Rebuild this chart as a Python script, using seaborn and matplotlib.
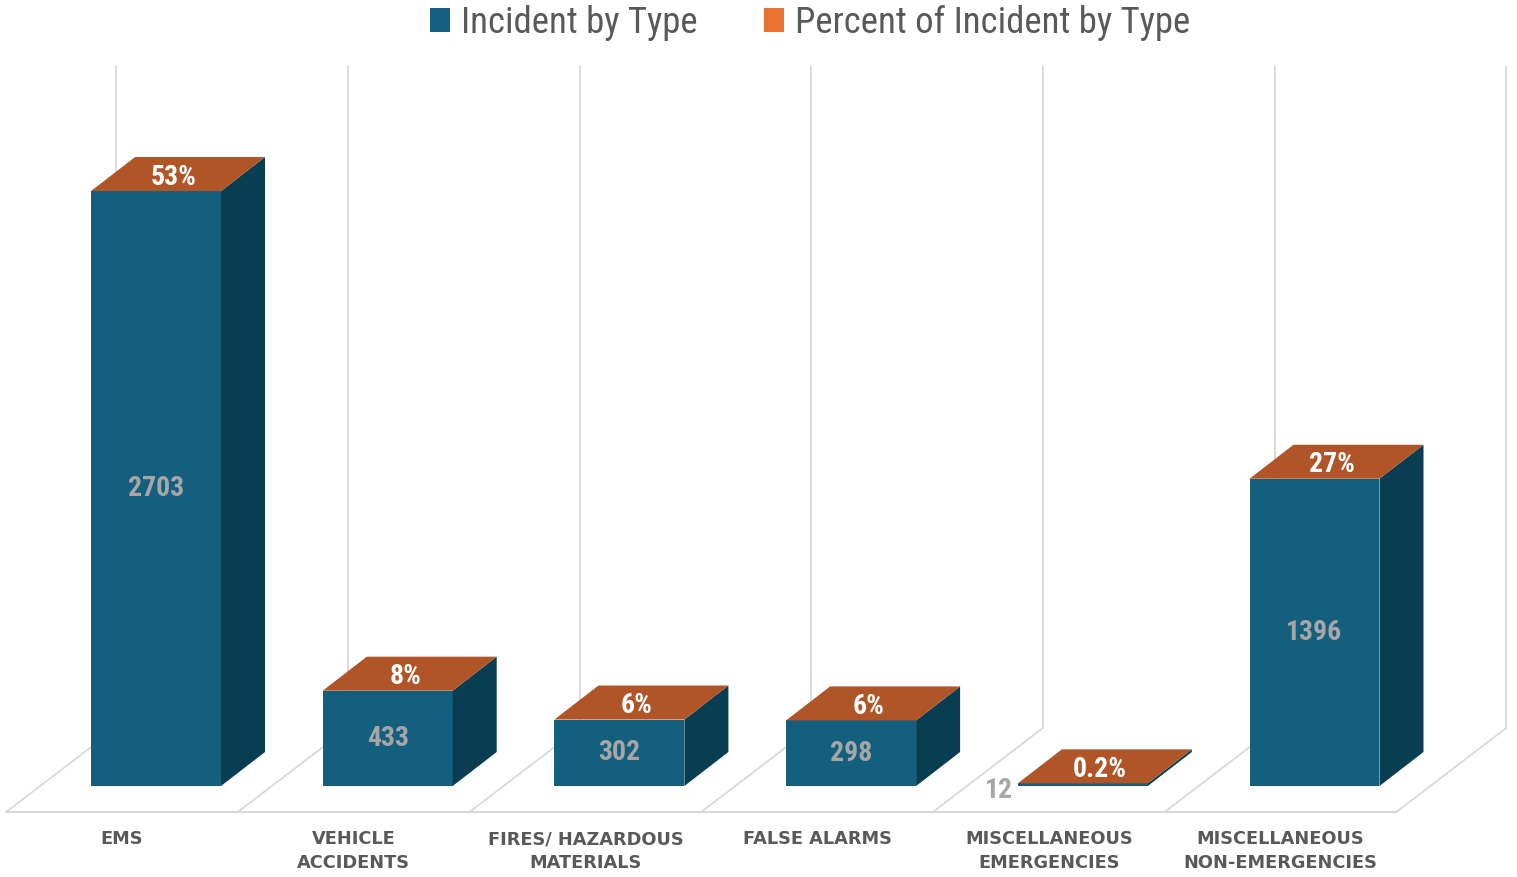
import matplotlib
matplotlib.use("Agg")
import matplotlib.pyplot as plt
from matplotlib.patches import Polygon, Patch
from matplotlib import font_manager
import seaborn as sns

# ---------------- data ----------------
categories = ["EMS", "VEHICLE\nACCIDENTS", "FIRES/ HAZARDOUS\nMATERIALS",
              "FALSE ALARMS", "MISCELLANEOUS\nEMERGENCIES",
              "MISCELLANEOUS\nNON-EMERGENCIES"]
counts = [2703, 433, 302, 298, 12, 1396]
percent_labels = ["53%", "8%", "6%", "6%", "0.2%", "27%"]
series_names = ["Incident by Type", "Percent of Incident by Type"]

# ---------------- style ----------------
FRONT = "#155F7E"
SIDE = "#083D52"
TOP = "#B05527"
LEG_BLUE = "#156082"
LEG_ORANGE = "#E97132"
GRID = "#D9D9D9"
TXT = "#595959"
VAL = "#A6A6A6"

sns.set_theme(style="white")
fl = font_manager.fontManager.ttflist


def _w(f):
    w = f.weight
    if isinstance(w, str):
        return {"bold": 700, "heavy": 800, "black": 900, "semibold": 600,
                "demibold": 600}.get(w, 400)
    return w


narrow = [f for f in fl if "Narrow" in f.name or "Condensed" in f.name]
narrow_bold = sorted({f.name for f in narrow if _w(f) >= 600})
narrow_reg = sorted({f.name for f in narrow if _w(f) < 600})
pref = ["Liberation Sans Narrow", "Roboto Condensed", "DejaVu Sans Condensed"]


def pick(names):
    for p in pref:
        if p in names:
            return p
    return names[0] if names else None


BOLD_N = pick(narrow_bold)
REG_N = pick(narrow_reg)
BFONT = dict(family=[BOLD_N, "DejaVu Sans"]) if BOLD_N else dict(family=["DejaVu Sans"])
RFONT = dict(family=[REG_N, "DejaVu Sans"]) if REG_N else dict(family=["DejaVu Sans"])
plt.rcParams["font.family"] = ["DejaVu Sans"]

fig = plt.figure(figsize=(15.17, 8.77), dpi=100)
ax = fig.add_axes([0, 0, 1, 1])

sns.barplot(x=list(range(len(categories))), y=counts, color=FRONT,
            saturation=1, width=0.561, ax=ax, zorder=3, linewidth=0,
            edgecolor=FRONT)

# axis limits chosen so the chart sits in the frame like the reference
ax.set_xlim(-0.6733, 5.874)
ax.set_ylim(-413.4, 3571)
ax.axis("off")

# 3D depth offsets (bar depth) and floor geometry
DX, DY = 0.19, 154.5
FLOOR_X0, FLOOR_Y0 = -0.1468, -118.0
FLOOR_DX, FLOOR_DY = 0.4747, 381.6
WALL_TOP = 3271

n = len(categories)
for i in range(n + 1):
    xb = i - 0.5 + FLOOR_X0
    ax.plot([xb, xb + FLOOR_DX], [FLOOR_Y0, FLOOR_Y0 + FLOOR_DY],
            color=GRID, lw=1.3, zorder=1, solid_capstyle="butt")
    ax.plot([xb + FLOOR_DX, xb + FLOOR_DX], [FLOOR_Y0 + FLOOR_DY, WALL_TOP],
            color=GRID, lw=1.3, zorder=1)
ax.plot([-0.5 + FLOOR_X0, n - 0.5 + FLOOR_X0], [FLOOR_Y0, FLOOR_Y0],
        color=GRID, lw=1.6, zorder=1)

lab_kw = dict(color=TXT, fontweight="bold", fontsize=12.8, ha="center",
              va="top", linespacing=1.4)
for i, cat in enumerate(categories):
    ax.text(i - 0.5 + FLOOR_X0 + 0.5, FLOOR_Y0 - 83, cat, **lab_kw)

num_size = 20 if BOLD_N else 16

for i, p in enumerate(ax.patches):
    x0, y0 = p.get_x(), p.get_y()
    w, h = p.get_width(), p.get_height()
    side = [(x0 + w, y0), (x0 + w + DX, y0 + DY),
            (x0 + w + DX, y0 + h + DY), (x0 + w, y0 + h)]
    top = [(x0, y0 + h), (x0 + w, y0 + h),
           (x0 + w + DX, y0 + h + DY), (x0 + DX, y0 + h + DY)]
    ax.add_patch(Polygon(side, closed=True, facecolor=SIDE, edgecolor="none",
                         zorder=3))
    ax.add_patch(Polygon(top, closed=True, facecolor=TOP, edgecolor="none",
                         zorder=4))
    ax.text(x0 + w / 2 + DX / 2 - 0.02, y0 + h + DY / 2 - 14, percent_labels[i],
            color="white", fontsize=num_size, fontweight="bold",
            ha="center", va="center", zorder=6, **BFONT)
    if h > 100:
        ax.text(x0 + w / 2, y0 + h / 2, f"{counts[i]}", color=VAL,
                fontsize=num_size, fontweight="bold", ha="center",
                va="center", zorder=6, **BFONT)
    else:
        ax.text(x0 - 0.02, y0 - 20, f"{counts[i]}", color=VAL,
                fontsize=num_size, fontweight="bold", ha="right",
                va="center", zorder=6, **BFONT)

leg_prop = font_manager.FontProperties(size=26.5 if REG_N else 21, **RFONT)
handles = [Patch(facecolor=LEG_BLUE, edgecolor="none"),
           Patch(facecolor=LEG_ORANGE, edgecolor="none")]
leg = fig.legend(handles, series_names, loc="center", ncol=2,
                 bbox_to_anchor=(0.534, 0.974), frameon=False,
                 prop=leg_prop, handlelength=0.55, handleheight=0.6,
                 handletextpad=0.3, columnspacing=1.8)
for t in leg.get_texts():
    t.set_color(TXT)

fig.savefig("out.png", dpi=100, facecolor="white")
